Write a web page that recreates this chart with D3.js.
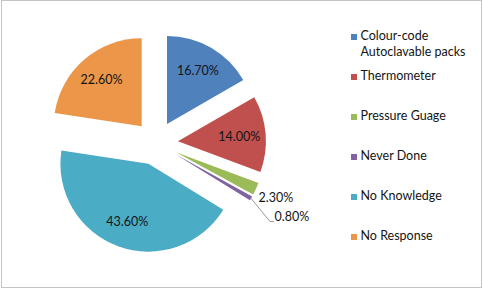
<!DOCTYPE html>
<html>
<head>
<meta charset="utf-8">
<script src="https://cdn.jsdelivr.net/npm/d3@7"></script>
<style>
  body { margin: 0; background: #fff; }
  text { font-family: Lato, "Open Sans", sans-serif; fill: #141414; }
</style>
</head>
<body>
<svg id="chart" width="483" height="290"></svg>
<script>
// data
const categories = ["Colour-code Autoclavable packs", "Thermometer", "Pressure Guage", "Never Done", "No Knowledge", "No Response"];
const legendLines = [["Colour-code", "Autoclavable packs"], ["Thermometer"], ["Pressure Guage"], ["Never Done"], ["No Knowledge"], ["No Response"]];
const values = [16.7, 14.0, 2.3, 0.8, 43.6, 22.6];
const labels = ["16.70%", "14.00%", "2.30%", "0.80%", "43.60%", "22.60%"];
const colors = ["#4f81bd", "#c0504d", "#9bbb59", "#8064a2", "#4bacc6", "#ec9649"];

const width = 483, height = 290;
const cx = 156, cy = 143;   // pie centre before explosion
const radius = 88;
const explode = 22;         // every slice pulled out the same amount

const svg = d3.select("#chart");

// chart area border
svg.append("rect")
  .attr("x", 1.5).attr("y", 0.5)
  .attr("width", 480).attr("height", 287)
  .attr("fill", "#fff")
  .attr("stroke", "#c4c4c4");

const data = categories.map((c, i) => ({name: c, value: values[i], label: labels[i], color: colors[i]}));

const pie = d3.pie().sort(null).value(d => d.value); // starts at 12 o'clock, clockwise
const arc = d3.arc().innerRadius(0).outerRadius(radius);
const arcs = pie(data);

// unit vector along a slice's bisector (svg coords)
function dir(a) {
  const m = (a.startAngle + a.endAngle) / 2;
  return [Math.sin(m), -Math.cos(m)];
}

const g = svg.append("g").attr("transform", `translate(${cx},${cy})`);

const slices = g.selectAll("g.slice")
  .data(arcs)
  .enter()
  .append("g")
  .attr("class", "slice")
  .attr("transform", d => {
    const [ux, uy] = dir(d);
    return `translate(${ux * explode},${uy * explode})`;
  });

slices.append("path")
  .attr("d", arc)
  .attr("fill", d => d.data.color);

// big slices: label inside at 0.7R
slices.filter(d => d.data.value >= 5)
  .append("text")
  .attr("x", d => dir(d)[0] * radius * 0.7)
  .attr("y", d => dir(d)[1] * radius * 0.7)
  .attr("dy", "0.35em")
  .attr("text-anchor", "middle")
  .style("font-size", "12.5px")
  .text(d => d.data.label);

// small slices: label outside
const small = slices.filter(d => d.data.value < 5);
small.each(function(d, i) {
  const s = d3.select(this);
  const [ux, uy] = dir(d);
  const r = radius * 1.25;
  if (i === 0) {
    s.append("text")
      .attr("x", ux * r)
      .attr("y", uy * r)
      .attr("dy", "0.35em")
      .attr("text-anchor", "middle")
      .style("font-size", "12.5px")
      .text(d.data.label);
  } else {
    // nudged down, with a leader line back to the slice
    const ex = ux * r, ey = uy * r + 12;
    s.append("path")
      .attr("d", `M${ux * radius},${uy * radius}L${ex},${ey}H${ex + 4}`)
      .attr("fill", "none")
      .attr("stroke", "#7f7f7f")
      .attr("stroke-width", 0.8);
    s.append("text")
      .attr("x", ex + 4.5)
      .attr("y", ey)
      .attr("text-anchor", "start")
      .style("font-size", "12.5px")
      .text(d.data.label);
  }
});

// legend
const legendY = d3.scalePoint()
  .domain(categories)
  .range([37, 237]);

const legend = svg.append("g").attr("class", "legend");
const items = legend.selectAll("g")
  .data(data)
  .enter()
  .append("g")
  .attr("transform", d => `translate(351,${legendY(d.name)})`);

items.append("rect")
  .attr("x", 0).attr("y", -3)
  .attr("width", 6).attr("height", 6)
  .attr("fill", d => d.color);

items.append("text")
  .attr("x", 9.5)
  .attr("y", -1.5)
  .style("font-size", "12.5px")
  .selectAll("tspan")
  .data((d, i) => legendLines[i])
  .enter()
  .append("tspan")
  .attr("x", 9.5)
  .attr("dy", (d, i) => i === 0 ? "0.35em" : "16px")
  .text(d => d);
</script>
</body>
</html>
